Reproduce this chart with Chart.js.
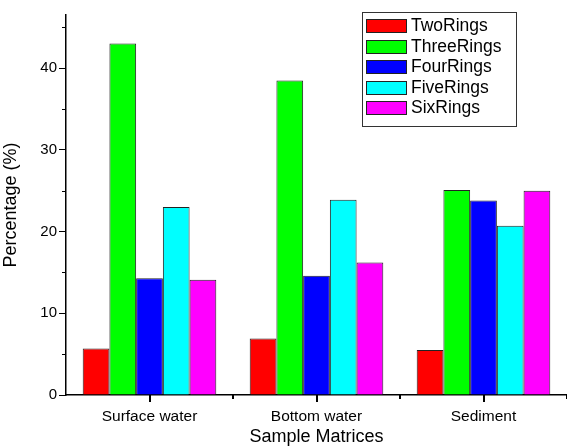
<!DOCTYPE html>
<html>
<head>
<meta charset="utf-8">
<script src="https://cdn.jsdelivr.net/npm/chart.js@4"></script>
<style>
  html, body { margin: 0; padding: 0; background: #fff; }
  #wrap { width: 567px; height: 448px; }
</style>
</head>
<body>
<div id="wrap"><canvas id="chart" width="567" height="448"></canvas></div>
<script>
// Kategorier och serier
const matrices = ["Surface water", "Bottom water", "Sediment"];
const seriesNames = ["TwoRings", "ThreeRings", "FourRings", "FiveRings", "SixRings"];
const twoRings = [5.7, 6.9, 5.5];
const threeRings = [43.0, 38.5, 25.1];
const fourRings = [14.3, 14.6, 23.8];
const fiveRings = [23.0, 23.9, 20.7];
const sixRings = [14.1, 16.2, 25.0];
const seriesColors = ["#ff0000", "#00ff00", "#0000ff", "#00ffff", "#ff00ff"];
const yTicks = [0, 10, 20, 30, 40];
const yMinorTicks = [5, 15, 25, 35, 45];

const allValues = [twoRings, threeRings, fourRings, fiveRings, sixRings];

Chart.defaults.font.family = "Arial, 'Liberation Sans', sans-serif";
Chart.defaults.color = "#000";

// Ritar tick-markeringar på x-axeln, små ticks på y-axeln och legendrutan
const extrasPlugin = {
  id: "extras",
  afterDraw(chart) {
    const ctx = chart.ctx;
    const x = chart.scales.x;
    const y = chart.scales.y;
    const area = chart.chartArea;
    ctx.save();
    ctx.fillStyle = "#000";
    // mindre ticks på y-axeln
    yMinorTicks.forEach((v) => {
      const py = Math.round(y.getPixelForValue(v));
      ctx.fillRect(area.left - 4, py, 4, 1);
    });
    // stora ticks i kategoriernas mitt, små vid gränserna
    matrices.forEach((m, i) => {
      const left = x.getPixelForValue(i - 0.5);
      const right = x.getPixelForValue(i + 0.5);
      const pc = Math.round((left + right) / 2);
      ctx.fillRect(pc - 1, area.bottom, 2, 7);
      ctx.fillRect(Math.round(right) - 1, area.bottom, 2, 4);
    });
    // legend
    ctx.lineWidth = 1;
    const lx = 362, ly = 12, lw = 154, lh = 114;
    ctx.fillStyle = "#fff";
    ctx.fillRect(lx, ly, lw, lh);
    ctx.strokeStyle = "#333";
    ctx.strokeRect(lx + 0.5, ly + 0.5, lw, lh);
    ctx.font = "17.5px Arial, 'Liberation Sans', sans-serif";
    ctx.textBaseline = "middle";
    chart.data.datasets.forEach((ds, i) => {
      const ry = Math.round(19 + i * 20.6);
      ctx.fillStyle = ds.backgroundColor;
      ctx.fillRect(366, ry, 41, 14);
      ctx.strokeStyle = "#222";
      ctx.strokeRect(366.5, ry + 0.5, 40, 13);
      ctx.fillStyle = "#000";
      ctx.fillText(ds.label, 411, ry + 7.5);
    });
    ctx.restore();
  },
};

new Chart(document.getElementById("chart"), {
  type: "bar",
  data: {
    labels: matrices,
    datasets: seriesNames.map((name, i) => ({
      label: name,
      data: allValues[i],
      backgroundColor: seriesColors[i],
      borderColor: "#222",
      borderWidth: 1,
      categoryPercentage: 0.8,
      barPercentage: 1.0,
    })),
  },
  options: {
    responsive: false,
    animation: false,
    layout: { padding: { top: 15, right: 0, left: 0, bottom: 0 } },
    plugins: {
      legend: { display: false },
      tooltip: { enabled: false },
    },
    scales: {
      x: {
        grid: { display: false },
        border: { display: true, color: "#000", width: 1.5 },
        ticks: { font: { size: 15.5 }, padding: 4, maxRotation: 0 },
        title: { display: true, text: "Sample Matrices", font: { size: 18 }, padding: { top: 0, bottom: 0 } },
        afterFit(scale) { scale.height = 53; },
      },
      y: {
        min: 0,
        max: 46.5,
        afterBuildTicks(scale) { scale.ticks = yTicks.map((v) => ({ value: v })); },
        grid: { display: true, drawOnChartArea: false, tickLength: 7, color: "#000" },
        border: { display: true, color: "#000", width: 1.5 },
        ticks: { font: { size: 15 }, padding: 2 },
        title: { display: true, text: "Percentage (%)", font: { size: 18 }, padding: { top: 0, bottom: 2 } },
        afterFit(scale) { scale.width = 66; },
      },
    },
  },
  plugins: [extrasPlugin],
});
</script>
</body>
</html>
